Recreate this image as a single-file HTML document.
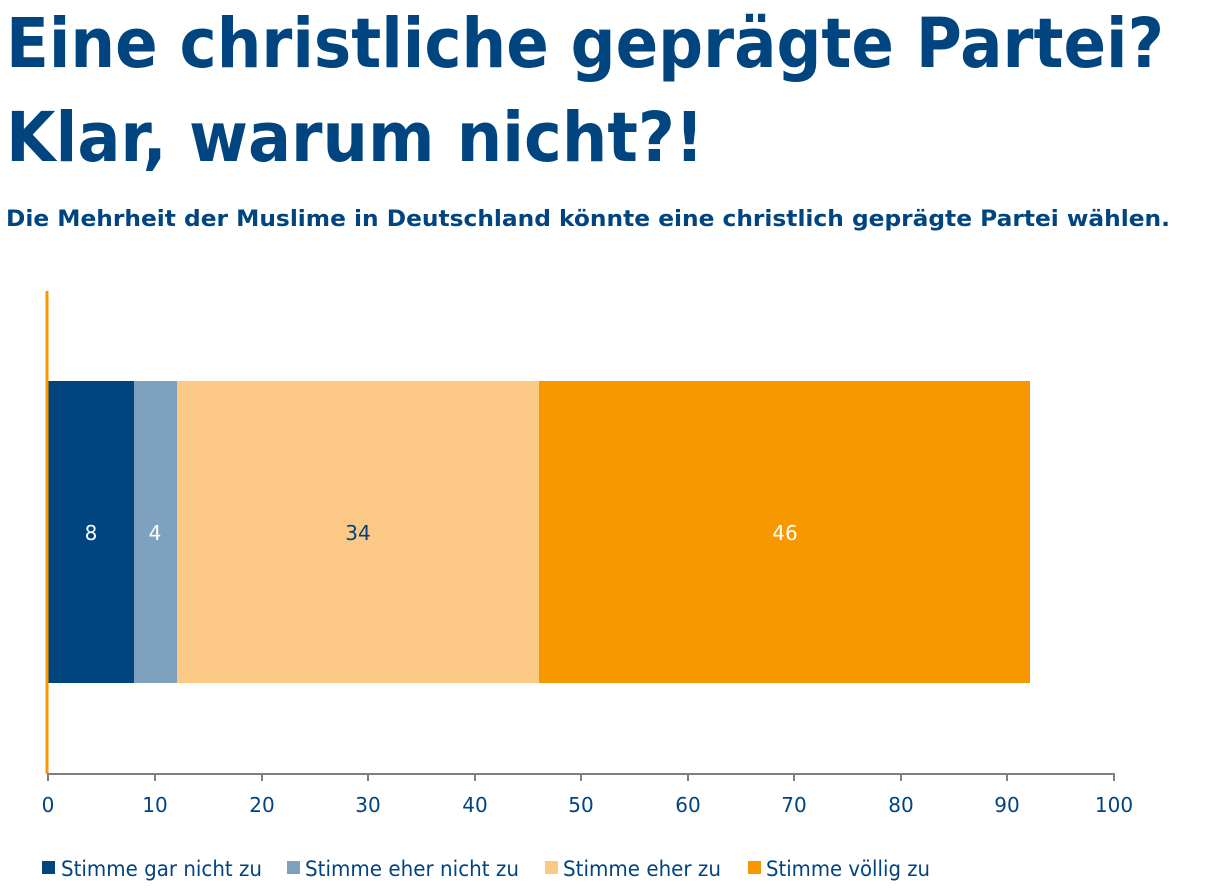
<!DOCTYPE html>
<html><head><meta charset="utf-8"><style>
body{margin:0;background:#fff;width:1232px;height:891px;overflow:hidden}
svg{display:block}
</style></head><body>
<svg width="1232" height="891" xmlns="http://www.w3.org/2000/svg" font-family="DejaVu Sans, Liberation Sans, sans-serif">
<text x="6" y="67" font-size="69" font-weight="bold" fill="#004480" textLength="1158" lengthAdjust="spacingAndGlyphs">Eine christliche geprägte Partei?</text>
<text x="6" y="161" font-size="69" font-weight="bold" fill="#004480" textLength="698" lengthAdjust="spacingAndGlyphs">Klar, warum nicht?!</text>
<text x="6" y="226" font-size="22" font-weight="bold" fill="#004480" textLength="1164" lengthAdjust="spacingAndGlyphs">Die Mehrheit der Muslime in Deutschland könnte eine christlich geprägte Partei wählen.</text>
<rect x="48" y="381" width="86" height="302" fill="#004480"/>
<rect x="134" y="381" width="43" height="302" fill="#7fa1c0"/>
<rect x="177" y="381" width="362" height="302" fill="#fbc985"/>
<rect x="539" y="381" width="491" height="302" fill="#f79800"/>
<g font-size="20" text-anchor="middle">
<text x="91" y="540" fill="#fff">8</text>
<text x="155" y="540" fill="#fff">4</text>
<text x="358" y="540" fill="#004480">34</text>
<text x="785" y="540" fill="#fff">46</text>
</g>
<line x1="47" y1="291" x2="47" y2="774" stroke="#f79800" stroke-width="3"/>
<line x1="47" y1="774" x2="1115" y2="774" stroke="#808080" stroke-width="2"/>
<g stroke="#808080" stroke-width="2">
<line x1="48" y1="774" x2="48" y2="781"/><line x1="155" y1="774" x2="155" y2="781"/><line x1="262" y1="774" x2="262" y2="781"/><line x1="368" y1="774" x2="368" y2="781"/><line x1="475" y1="774" x2="475" y2="781"/><line x1="581" y1="774" x2="581" y2="781"/><line x1="688" y1="774" x2="688" y2="781"/><line x1="794" y1="774" x2="794" y2="781"/><line x1="901" y1="774" x2="901" y2="781"/><line x1="1007" y1="774" x2="1007" y2="781"/><line x1="1114" y1="774" x2="1114" y2="781"/>
</g>
<g font-size="20" fill="#004480" text-anchor="middle">
<text x="48" y="812">0</text><text x="155" y="812">10</text><text x="262" y="812">20</text><text x="368" y="812">30</text><text x="475" y="812">40</text><text x="581" y="812">50</text><text x="688" y="812">60</text><text x="794" y="812">70</text><text x="901" y="812">80</text><text x="1007" y="812">90</text><text x="1114" y="812">100</text>
</g>
<g font-size="21" fill="#004480">
<rect x="42" y="861" width="13" height="13" fill="#004480"/><text x="61" y="876" textLength="201" lengthAdjust="spacingAndGlyphs">Stimme gar nicht zu</text>
<rect x="287" y="861" width="13" height="13" fill="#7fa1c0"/><text x="305" y="876" textLength="214" lengthAdjust="spacingAndGlyphs">Stimme eher nicht zu</text>
<rect x="545" y="861" width="13" height="13" fill="#fbc985"/><text x="563" y="876" textLength="158" lengthAdjust="spacingAndGlyphs">Stimme eher zu</text>
<rect x="748" y="861" width="13" height="13" fill="#f79800"/><text x="766" y="876" textLength="164" lengthAdjust="spacingAndGlyphs">Stimme völlig zu</text>
</g>
</svg>
</body></html>
